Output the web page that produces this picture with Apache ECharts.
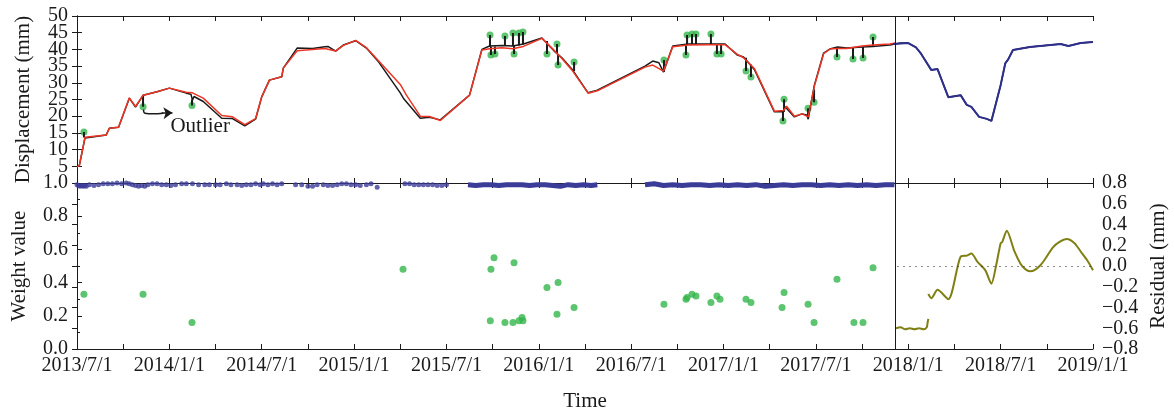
<!DOCTYPE html>
<html lang="en">
<head>
<meta charset="UTF-8">
<title>Displacement, weight value and residual</title>
<script src="https://cdn.jsdelivr.net/npm/echarts@6.0.0/dist/echarts.min.js"></script>
</head>
<body style="margin:0;background:#fff">
<div id="container" style="width:1174px;height:413px"></div>
<script>
// x is months since 2013/7/1
var tickLabels = ['2013/7/1', '2014/1/1', '2014/7/1', '2015/1/1', '2015/7/1', '2016/1/1',
  '2016/7/1', '2017/1/1', '2017/7/1', '2018/1/1', '2018/7/1', '2019/1/1'];
var splitMonth = 53.14; // end of the fitting period

// measured displacement (black)
var measured = [[0,4.8],[0.15,5.2],[0.52,13.5],[1.0,13.8],[1.9,14.4],[2.1,16.4],[2.7,16.7],
  [3.4,25.4],[3.8,22.7],[4.3,26.3],[5.2,27.3],[6.0,28.4],[7.1,26.9],[7.4,26.6],[7.5,24.8],
  [7.6,25.9],[8.2,24.4],[9.4,19.4],[10.1,19.3],[10.9,17.1],[11.6,19.1],[12.0,25.8],[12.5,30.8],
  [13.3,31.8],[13.4,34.4],[14.3,40.4],[15.3,40.3],[16.1,40.8],[16.3,40.9],[16.8,39.5],[17.3,41.3],
  [18.1,42.6],[18.8,40.4],[19.6,36.2],[21.0,27.0],[21.2,25.4],[22.3,19.4],[22.9,19.7],[23.6,18.9],
  [25.5,26.3],[26.3,40.0],[26.8,41.0],[27.6,41.2],[28.3,41.0],[29.0,41.6],[30.2,43.4],[31.0,39.5],
  [31.5,37.5],[32.2,33.8],[33.2,27.0],[33.8,27.8],[36.9,35.0],[37.4,36.5],[37.8,36.0],[38.1,33.2],
  [38.7,41.0],[39.7,41.6],[41.0,41.6],[42.1,41.6],[42.9,38.3],[43.3,37.7],[44.0,34.0],[45.3,21.3],
  [45.9,21.3],[46.0,22.8],[46.6,19.8],[47.1,20.7],[47.4,20.4],[47.5,19.1],[47.9,29.3],[48.5,38.9],
  [48.9,40.1],[49.4,40.7],[50.0,40.4],[51.0,40.7],[51.7,40.9],[52.8,41.3],[53.5,41.9]];

// robust fit (red)
var fitted = [[0,4.8],[0.15,5.2],[0.52,13.7],[1.9,14.4],[2.1,16.4],[2.7,16.7],[3.4,25.5],[3.8,22.9],
  [4.3,26.3],[5.2,27.3],[6.0,28.4],[7.1,27.2],[7.5,27.0],[8.2,25.4],[9.4,20.2],[10.1,19.8],
  [10.9,17.5],[11.6,19.3],[12.0,25.8],[12.5,30.8],[13.3,31.8],[13.4,34.4],[14.3,39.6],[15.3,40.0],
  [16.1,40.3],[16.8,39.5],[17.3,41.2],[18.1,42.7],[18.8,40.5],[19.6,36.5],[21.0,29.5],[21.4,26.3],
  [22.3,20.0],[22.9,19.9],[23.6,18.7],[25.5,26.3],[26.3,39.8],[26.8,40.2],[27.6,40.5],[28.3,40.2],
  [29.0,40.9],[30.2,43.3],[31.0,39.7],[31.5,37.3],[32.2,33.5],[33.2,26.9],[33.8,27.6],[36.9,34.7],
  [37.4,35.3],[38.1,33.5],[38.7,40.8],[39.7,41.3],[41.0,41.4],[42.1,41.4],[42.9,38.5],[43.3,37.5],
  [44.0,34.3],[45.3,21.5],[45.9,21.7],[46.1,23.0],[46.6,20.0],[47.1,20.7],[47.5,19.8],[47.9,29.0],
  [48.5,38.7],[48.9,40.1],[49.4,40.3],[50.0,40.3],[51.0,41.0],[51.7,41.3],[52.8,41.6],[53.2,41.9]];

// prediction period (blue)
var predicted = [[53.0,41.6],[54.0,41.9],[54.5,40.6],[54.8,38.9],[55.5,33.8],[55.9,34.1],[56.6,25.7],
  [57.4,26.3],[57.8,23.4],[58.1,22.8],[58.6,19.8],[59.1,19.2],[59.4,18.6],[60.0,29.3],[60.3,35.8],
  [60.5,37.1],[60.8,39.8],[61.9,40.7],[63.9,41.6],[64.4,41.0],[65.2,41.9],[66.0,42.2]];

// outliers: [month, outlier value, value on the line]
var outliers = [[0.45,15.3,13.6],[4.29,22.8,26.3],[7.47,23.2,25.0],[26.83,44.3,40.8],[26.89,38.3,40.8],
  [27.15,38.6,40.9],[27.80,44.0,41.0],[28.32,44.9,41.0],[28.39,38.6,41.0],[28.71,44.9,41.2],
  [28.97,45.2,41.4],[30.53,38.6,42.5],[31.18,41.6,38.8],[31.25,35.3,38.3],[32.29,36.2,33.5],
  [38.13,36.8,33.2],[39.56,38.3,41.5],[39.63,44.3,41.5],[39.95,44.6,41.5],[40.21,44.6,41.5],
  [41.18,44.6,41.6],[41.57,38.6,41.6],[41.84,38.6,41.6],[43.46,33.5,37.5],[43.78,31.7,35.5],
  [45.86,18.6,21.3],[45.93,25.1,21.3],[47.49,22.4,19.5],[47.88,24.2,28.0],[49.37,37.7,40.6],
  [50.41,37.1,40.5],[51.06,37.4,40.7],[51.71,43.7,40.9]];

// weight values of the outliers
var outlierWeights = [[0.45,0.33],[4.29,0.33],[7.47,0.16],[21.18,0.48],[26.89,0.48],[27.09,0.55],
  [26.85,0.17],[27.80,0.16],[28.39,0.52],[28.32,0.16],[28.71,0.17],[28.91,0.19],[28.97,0.17],
  [30.53,0.37],[31.25,0.40],[31.18,0.21],[32.29,0.25],[38.13,0.27],[39.56,0.30],[39.63,0.31],
  [39.95,0.33],[40.21,0.32],[41.18,0.28],[41.57,0.32],[41.77,0.30],[43.46,0.30],[43.78,0.28],
  [45.80,0.25],[45.93,0.34],[47.49,0.27],[47.88,0.16],[49.37,0.42],[50.47,0.16],[51.06,0.16],
  [51.71,0.49]];

// weight values of the normal points, sparse part
var weightMonths = [0.0,0.1,0.2,0.3,0.4,0.5,0.6,0.8,1.1,1.4,1.7,2.0,2.3,2.6,2.9,3.2,3.4,3.6,3.8,4.0,
  4.2,4.4,4.6,4.9,5.2,5.5,5.8,6.1,6.4,6.8,7.1,7.5,7.9,8.3,8.6,9.0,9.3,9.7,10.0,10.4,10.7,11.0,11.3,
  11.6,11.9,12.1,12.4,12.7,13.0,13.3,14.2,14.6,15.0,15.3,15.6,16.0,16.3,16.6,16.9,17.2,17.5,17.8,
  18.1,18.4,18.8,19.1,19.5,21.3,21.6,21.9,22.2,22.5,22.8,23.1,23.4,23.7,24.0];
var weightValues = [0.99,0.985,0.98,0.985,0.98,0.985,0.98,0.99,0.985,0.99,0.995,0.995,0.995,1.0,0.995,
  1.0,0.995,0.99,0.985,0.98,0.985,0.98,0.99,0.995,0.995,0.99,0.99,0.985,0.99,0.995,0.995,0.995,0.99,
  0.99,0.99,0.99,0.99,0.995,0.99,0.99,0.985,0.99,0.99,0.995,0.99,0.995,0.99,0.995,0.99,0.995,0.99,
  0.99,0.98,0.98,0.99,0.99,0.985,0.985,0.99,0.995,0.995,0.99,0.99,0.985,0.99,0.995,0.975,0.995,
  0.995,0.99,0.99,0.99,0.99,0.99,0.985,0.985,0.99];

// weight values of the normal points, dense parts (drawn as a band)
var bandA = [[25.4,0.99],[25.9,0.985],[26.4,0.99],[26.9,0.99],[27.4,0.985],[27.9,0.99],[28.4,0.99],
  [28.9,0.99],[29.4,0.985],[29.9,0.99],[30.4,0.99],[30.9,0.985],[31.4,0.98],[31.9,0.99],[32.4,0.985],
  [32.9,0.99],[33.4,0.985],[33.8,0.99]];
var bandB = [[36.9,0.99],[37.5,0.995],[38.1,0.985],[38.7,0.99],[39.3,0.985],[39.9,0.99],[40.5,0.99],
  [41.1,0.985],[41.7,0.99],[42.3,0.985],[42.9,0.99],[43.5,0.985],[44.1,0.99],[44.7,0.98],[45.3,0.985],
  [45.9,0.99],[46.5,0.985],[47.1,0.99],[47.7,0.99],[48.3,0.985],[48.9,0.99],[49.5,0.985],[50.1,0.99],
  [50.7,0.985],[51.3,0.99],[51.9,0.985],[52.5,0.99],[53.1,0.99]];

// residual in the prediction period (mm)
var residual = [[53.2,-0.60],[53.5,-0.59],[53.8,-0.61],[54.1,-0.60],[54.4,-0.61],[54.7,-0.60],
  [55.0,-0.61],[55.2,-0.59],[55.25,-0.55],[55.3,-0.51],[55.3,'-'],[55.3,-0.27],[55.5,-0.31],
  [55.9,-0.23],[56.6,-0.32],[57.4,0.09],[57.8,0.10],[58.1,0.12],[58.5,0.04],[59.0,-0.04],
  [59.4,-0.17],[59.7,0.0],[60.0,0.22],[60.1,0.23],[60.4,0.34],[60.9,0.14],[61.3,0.02],[61.6,-0.03],
  [61.9,-0.05],[62.2,-0.04],[62.6,0.01],[62.9,0.07],[63.4,0.18],[63.8,0.23],[64.3,0.26],[64.8,0.22],
  [65.2,0.14],[65.6,0.06],[66.0,-0.04]];

// arrow from the outlier to its label
var arrowPath = [[4.32,22.0],[4.42,20.9],[4.9,20.7],[5.6,20.9]];

var font = 'Liberation Serif';
var ink = '#1a1a1a';
var lineStyle = { color: ink, width: 1 };
var nameStyle = { color: ink, fontFamily: font, fontSize: 21 };

function xAxisOf(grid, pos, labels) {
  return {
    type: 'value', gridIndex: grid, position: pos, min: 0, max: 66, interval: 3,
    axisLine: { show: true, onZero: false, lineStyle: lineStyle },
    axisTick: { show: true, inside: true, length: 5, lineStyle: lineStyle },
    splitLine: { show: false },
    axisLabel: {
      show: labels, margin: 7, color: ink, fontFamily: font, fontSize: 20,
      showMinLabel: true, showMaxLabel: true,
      formatter: function (v) { return v % 6 === 0 ? tickLabels[v / 6] : ''; }
    }
  };
}

function yLabel(fmt) {
  return { margin: 9, color: ink, fontFamily: font, fontSize: 20,
    showMinLabel: true, showMaxLabel: true, formatter: fmt };
}

var stubs = [];
outliers.forEach(function (o) {
  stubs.push([o[0], o[2]], [o[0], o[1]], [o[0], '-']);
});

var myChart = echarts.init(document.getElementById('container'));
var option = {
  animation: false,
  grid: [
    { left: 77, top: 16, width: 1016, height: 167, outerBoundsMode: 'none', containLabel: false },
    { left: 77, top: 183, width: 1016, height: 166, outerBoundsMode: 'none', containLabel: false }
  ],
  xAxis: [
    xAxisOf(0, 'bottom', false),
    xAxisOf(0, 'top', false),
    Object.assign(xAxisOf(1, 'bottom', true), {
      name: 'Time', nameLocation: 'middle', nameGap: 42, nameMoveOverlap: false,
      nameTextStyle: nameStyle
    }),
    xAxisOf(1, 'top', false)
  ],
  yAxis: [
    {
      // displacement, labels 10, 20, ... 50
      type: 'value', gridIndex: 0, position: 'left', min: 0, max: 50, interval: 5,
      name: 'Displacement (mm)', nameLocation: 'middle', nameGap: 43, nameRotate: 90,
      nameMoveOverlap: false, nameTextStyle: nameStyle,
      axisLine: { show: true, lineStyle: lineStyle },
      axisTick: { show: true, inside: true, length: 5, lineStyle: lineStyle },
      splitLine: { show: false },
      axisLabel: yLabel(function (v) { return v > 0 && v % 10 === 0 ? v : ''; })
    },
    {
      type: 'value', gridIndex: 0, position: 'right', min: 0, max: 50, interval: 5,
      axisLine: { show: true, lineStyle: lineStyle },
      axisTick: { show: true, inside: true, length: 5, lineStyle: lineStyle },
      splitLine: { show: false }, axisLabel: { show: false }
    },
    {
      type: 'value', gridIndex: 1, position: 'left', min: 0, max: 1, interval: 0.2,
      name: 'Weight value', nameLocation: 'middle', nameGap: 47, nameRotate: 90,
      nameMoveOverlap: false, nameTextStyle: nameStyle,
      axisLine: { show: true, lineStyle: lineStyle },
      axisTick: { show: true, inside: true, length: 5, lineStyle: lineStyle },
      minorTick: { show: true, splitNumber: 2, length: 3, lineStyle: lineStyle },
      splitLine: { show: false },
      axisLabel: yLabel(function (v) { return v.toFixed(1); })
    },
    {
      type: 'value', gridIndex: 1, position: 'right', min: -0.8, max: 0.8, interval: 0.2,
      name: 'Residual (mm)', nameLocation: 'middle', nameGap: 55, nameRotate: 90,
      nameMoveOverlap: false, nameTextStyle: nameStyle,
      axisLine: { show: true, lineStyle: lineStyle },
      axisTick: { show: true, inside: true, length: 5, lineStyle: lineStyle },
      splitLine: { show: false },
      axisLabel: yLabel(function (v) {
        return (v < -0.001 ? '\u2212' : '') + Math.abs(v).toFixed(1);
      })
    },
    {
      // displacement, labels 5, 15, ... 45 (separate so no label is dropped)
      type: 'value', gridIndex: 0, position: 'left', min: 0, max: 50, interval: 5,
      axisLine: { show: false }, axisTick: { show: false }, splitLine: { show: false },
      axisLabel: yLabel(function (v) { return v % 10 === 5 ? v : ''; })
    }
  ],
  series: [
    {
      // measured, also under the prediction line
      type: 'line', xAxisIndex: 0, yAxisIndex: 0, data: measured.concat(predicted.slice(1)),
      showSymbol: false, lineStyle: { color: ink, width: 1.5 },
      markLine: {
        silent: true, symbol: 'none', label: { show: false },
        lineStyle: { color: ink, width: 1, type: 'solid' },
        data: [{ xAxis: splitMonth }]
      }
    },
    {
      type: 'line', xAxisIndex: 0, yAxisIndex: 0, data: stubs,
      showSymbol: false, connectNulls: false, lineStyle: { color: ink, width: 2 }
    },
    {
      type: 'line', xAxisIndex: 0, yAxisIndex: 0, data: fitted,
      showSymbol: false, lineStyle: { color: '#ee3524', width: 1.5 }
    },
    {
      type: 'line', xAxisIndex: 0, yAxisIndex: 0, data: predicted,
      showSymbol: false, lineStyle: { color: '#2e2e8e', width: 2 }
    },
    {
      type: 'scatter', xAxisIndex: 0, yAxisIndex: 0, symbolSize: 7,
      data: outliers.map(function (o) { return [o[0], o[1]]; }),
      itemStyle: { color: '#34b54b' }
    },
    {
      // annotation arrow and text
      type: 'line', xAxisIndex: 0, yAxisIndex: 0, data: arrowPath, smooth: 0.5,
      showSymbol: false, lineStyle: { color: ink, width: 1.5 },
      markLine: {
        silent: true, symbol: ['none', 'arrow'], symbolSize: 9, label: { show: false },
        lineStyle: { color: ink, width: 1.5, type: 'solid' },
        data: [[{ coord: [5.5, 20.9] }, { coord: [6.2, 21.0] }]]
      },
      markPoint: {
        silent: true, symbol: 'rect', symbolSize: 1, itemStyle: { color: 'rgba(0,0,0,0)' },
        label: { show: true, position: 'inside', formatter: 'Outlier', color: ink,
          fontFamily: font, fontSize: 21 },
        data: [{ coord: [8.0, 16.8] }]
      }
    },
    {
      type: 'scatter', xAxisIndex: 2, yAxisIndex: 2, symbolSize: 5,
      data: weightMonths.map(function (m, i) { return [m, weightValues[i]]; }),
      itemStyle: { color: '#3b3b98' },
      markLine: {
        silent: true, symbol: 'none', label: { show: false },
        lineStyle: { color: ink, width: 1, type: 'solid' },
        data: [{ xAxis: splitMonth }]
      }
    },
    {
      type: 'line', xAxisIndex: 2, yAxisIndex: 2, data: bandA.concat([[34, '-']], bandB),
      showSymbol: false, connectNulls: false, lineStyle: { color: '#3b3b98', width: 5 }
    },
    {
      type: 'scatter', xAxisIndex: 2, yAxisIndex: 2, symbolSize: 7,
      data: outlierWeights, itemStyle: { color: '#34b54b' }
    },
    {
      type: 'line', xAxisIndex: 2, yAxisIndex: 3, data: residual, smooth: 0.25,
      showSymbol: false, connectNulls: false, lineStyle: { color: '#7f7f14', width: 2 },
      markLine: {
        silent: true, symbol: 'none', label: { show: false },
        lineStyle: { color: ink, width: 1.2, type: [1, 5] },
        data: [[{ coord: [53.3, 0] }, { coord: [66, 0] }]]
      }
    }
  ]
};
myChart.setOption(option);
</script>
</body>
</html>
